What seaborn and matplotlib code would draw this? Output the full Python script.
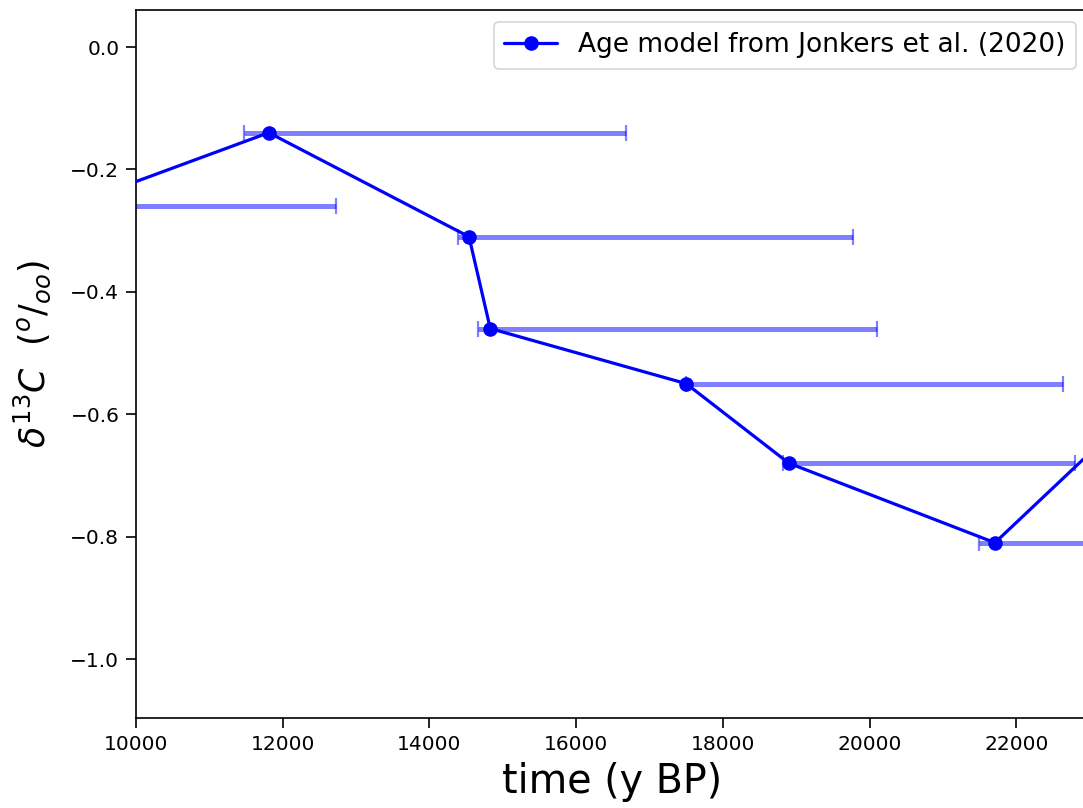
import matplotlib
matplotlib.use("Agg")
import matplotlib.pyplot as plt
import seaborn as sns
import numpy as np
import pandas as pd

# data
age = [9090, 11810, 14540, 14830, 17500, 18900, 21710, 23300]
d13c = [-0.26, -0.14, -0.31, -0.46, -0.55, -0.68, -0.81, -0.63]
err_minus = [300, 340, 150, 170, 0, 80, 220, 200]
err_plus = [3640, 4870, 5235, 5275, 5140, 3900, 3800, 3800]
series_label = "Age model from Jonkers et al. (2020)"
xticks = [10000, 12000, 14000, 16000, 18000, 20000, 22000]
yticks = [0.0, -0.2, -0.4, -0.6, -0.8, -1.0]

sns.set_style("ticks")
plt.rcParams['font.family'] = ['DejaVu Sans']
for k in ['text.color', 'axes.labelcolor', 'xtick.color', 'ytick.color', 'axes.edgecolor']:
    plt.rcParams[k] = 'black'

fig = plt.figure(figsize=(10.83, 8.08), dpi=100)
ax = fig.add_axes([136/1083, (808-718)/808, (1088-136)/1083, (718-10)/808])

df = pd.DataFrame({"age": age, "d13c": d13c})
ax.errorbar(age, d13c, xerr=[err_minus, err_plus], fmt='none', ecolor='blue',
            alpha=0.5, elinewidth=3.6, capsize=6, capthick=1.6, zorder=1)
sns.lineplot(data=df, x="age", y="d13c", marker='o', color='blue', linewidth=2.3,
             markersize=10.5, markeredgewidth=0, label=series_label, ax=ax, zorder=3,
             sort=False)

ax.set_xlim(10000, 10000 + (1088-136)/146.7*2000)
ax.set_ylim(-1.0964, 0.0605)
ax.set_xticks(xticks)
ax.set_yticks(yticks)
ax.tick_params(labelsize=14.5, direction='out', length=7, width=1.2, pad=5)
for s in ax.spines.values():
    s.set_linewidth(1.2)
    s.set_color('black')
ax.set_xlabel("time (y BP)", fontsize=28.5, labelpad=6)
ax.set_ylabel(r'$\delta^{13}C\ \ (^o/_{oo})$', fontsize=25, labelpad=6)
ax.yaxis.set_label_coords(-0.087, 0.514)
leg = ax.legend(loc='upper right', fontsize=19, frameon=True, borderaxespad=0.45,
                handlelength=2.0)
leg.get_frame().set_edgecolor('#cccccc')
leg.get_frame().set_linewidth(1.2)

fig.savefig("out.png", dpi=100)
